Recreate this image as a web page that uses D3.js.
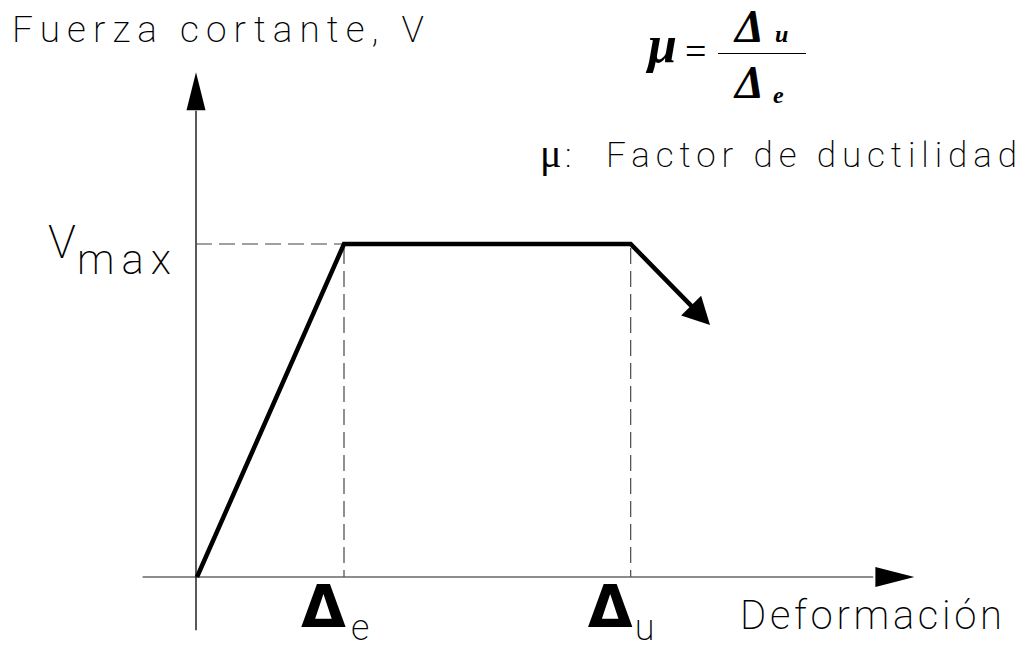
<!DOCTYPE html>
<html lang="es">
  <head>
    <meta charset="UTF-8" />
    <title>Ductilidad</title>
    <script src="https://cdn.jsdelivr.net/npm/d3@7"></script>
    <style>
      body { margin: 0; background: #fff; }
      .thin { font-family: Roboto, "DejaVu Sans", sans-serif; font-weight: 200; fill: #000; }
    </style>
  </head>
  <body>
    <div class="chart"></div>
    <script>
      // curva cortante - deformacion (Δe = 1, Vmax = 1)
      const deformacion = [0, 1, 2.95, 3.49];
      const cortante = [0, 1, 1, 0.757];
      const marcas = [
        { d: 1, sub: "e" },
        { d: 2.95, sub: "u" },
      ];
      const vmax = 1;

      const width = 1032;
      const height = 649;

      const svg = d3
        .select(".chart")
        .append("svg")
        .attr("width", width)
        .attr("height", height)
        .attr("viewBox", [0, 0, width, height]);

      const x = d3.scaleLinear().domain([0, 1]).range([197, 344]);
      const y = d3.scaleLinear().domain([0, 1]).range([577, 244]);

      const x0 = x(0);
      const y0 = y(0);

      function arrowHead(tx, ty, ux, uy, len, wid) {
        const bx = tx - ux * len;
        const by = ty - uy * len;
        const px = -uy * wid / 2;
        const py = ux * wid / 2;
        return [[tx, ty], [bx + px, by + py], [bx - px, by - py]];
      }

      // ejes
      svg.append("line")
        .attr("x1", x(-0.37)).attr("y1", y0)
        .attr("x2", x(4.6)).attr("y2", y0)
        .attr("stroke", "#666").attr("stroke-width", 1.6);
      svg.append("polygon")
        .attr("points", arrowHead(x(4.88), y0, 1, 0, 39, 20).join(" "))
        .attr("fill", "#000");

      svg.append("line")
        .attr("x1", x0 - 1).attr("y1", y(-0.16))
        .attr("x2", x0 - 1).attr("y2", y(1.4))
        .attr("stroke", "#000").attr("stroke-width", 1.3);
      svg.append("polygon")
        .attr("points", arrowHead(x0 - 1, y(1.516), 0, -1, 38, 19).join(" "))
        .attr("fill", "#000");

      // lineas de referencia
      const dash = "16 7";
      svg.append("line")
        .attr("x1", x0 - 1).attr("y1", y(vmax))
        .attr("x2", x(marcas[0].d)).attr("y2", y(vmax))
        .attr("stroke", "#444").attr("stroke-width", 1.2)
        .attr("stroke-dasharray", dash);

      svg.selectAll(".ref")
        .data(marcas)
        .enter()
        .append("line")
        .attr("class", "ref")
        .attr("x1", (d) => x(d.d)).attr("y1", y(vmax) + 4)
        .attr("x2", (d) => x(d.d)).attr("y2", y0)
        .attr("stroke", "#555").attr("stroke-width", 1.3)
        .attr("stroke-dasharray", dash);

      // curva
      const pts = deformacion.map((d, i) => [x(d), y(cortante[i])]);
      const n = pts.length;
      const tip = pts[n - 1];
      const prev = pts[n - 2];
      const L = Math.hypot(tip[0] - prev[0], tip[1] - prev[1]);
      const ux = (tip[0] - prev[0]) / L;
      const uy = (tip[1] - prev[1]) / L;
      const headLen = 27;
      const linePts = pts.slice(0, n - 1).concat([[tip[0] - ux * (headLen - 2), tip[1] - uy * (headLen - 2)]]);

      svg.append("path")
        .attr("d", d3.line()(linePts))
        .attr("fill", "none")
        .attr("stroke", "#000")
        .attr("stroke-width", 4.5)
        .attr("stroke-linejoin", "miter");

      svg.append("polygon")
        .attr("points", arrowHead(tip[0], tip[1], ux, uy, headLen, 28).join(" "))
        .attr("fill", "#000");

      // textos
      svg.append("text").attr("class", "thin")
        .attr("x", 12).attr("y", 42)
        .style("font-size", "37px")
        .attr("textLength", 412).attr("lengthAdjust", "spacing")
        .text("Fuerza cortante, V");

      svg.append("text").attr("class", "thin")
        .attr("x", 740).attr("y", 629)
        .style("font-size", "40px")
        .attr("textLength", 262).attr("lengthAdjust", "spacing")
        .text("Deformación");

      svg.append("text")
        .attr("x", 540).attr("y", 167)
        .style("font-family", "Liberation Serif, serif")
        .style("font-size", "40px")
        .text("μ");
      svg.append("text").attr("class", "thin")
        .attr("x", 565).attr("y", 167)
        .style("font-size", "34px")
        .text(":");

      svg.append("text").attr("class", "thin")
        .attr("x", 606).attr("y", 167)
        .style("font-size", "35px")
        .attr("textLength", 411).attr("lengthAdjust", "spacing")
        .text("Factor de ductilidad");

      // Vmax
      svg.append("text").attr("class", "thin")
        .attr("x", 48).attr("y", 258)
        .style("font-size", "46px")
        .text("V");
      svg.append("text").attr("class", "thin")
        .attr("x", 77).attr("y", 274)
        .style("font-size", "42px")
        .attr("textLength", 94).attr("lengthAdjust", "spacing")
        .text("max");

      // Δe, Δu
      const lab = svg.selectAll(".lab")
        .data(marcas)
        .enter()
        .append("g")
        .attr("class", "lab");
      lab.append("text")
        .attr("x", (d) => x(d.d) - 43)
        .attr("y", 627)
        .style("font-family", "DejaVu Sans, sans-serif")
        .style("font-weight", "bold")
        .style("font-size", "58px")
        .text("Δ");
      lab.append("text").attr("class", "thin")
        .attr("x", (d) => x(d.d) + (d.sub === "e" ? 7 : 4))
        .attr("y", 640)
        .style("font-size", "36px")
        .text((d) => d.sub);

      // formula
      const f = svg.append("g")
        .style("font-family", "Liberation Serif, serif")
        .style("font-weight", "bold")
        .style("font-style", "italic");
      f.append("text").attr("x", 648).attr("y", 62).style("font-size", "52px").text("μ");
      f.append("text").attr("x", 685).attr("y", 64)
        .style("font-style", "normal").style("font-weight", "normal")
        .style("font-size", "38px").text("=");
      f.append("line")
        .attr("x1", 718).attr("x2", 806).attr("y1", 53.5).attr("y2", 53.5)
        .attr("stroke", "#000").attr("stroke-width", 1);
      f.append("text").attr("x", 735).attr("y", 42).style("font-size", "46px").text("Δ");
      f.append("text").attr("x", 775).attr("y", 42).style("font-size", "24px").text("u");
      f.append("text").attr("x", 735).attr("y", 98).style("font-size", "46px").text("Δ");
      f.append("text").attr("x", 773).attr("y", 103).style("font-size", "24px").text("e");
    </script>
  </body>
</html>
